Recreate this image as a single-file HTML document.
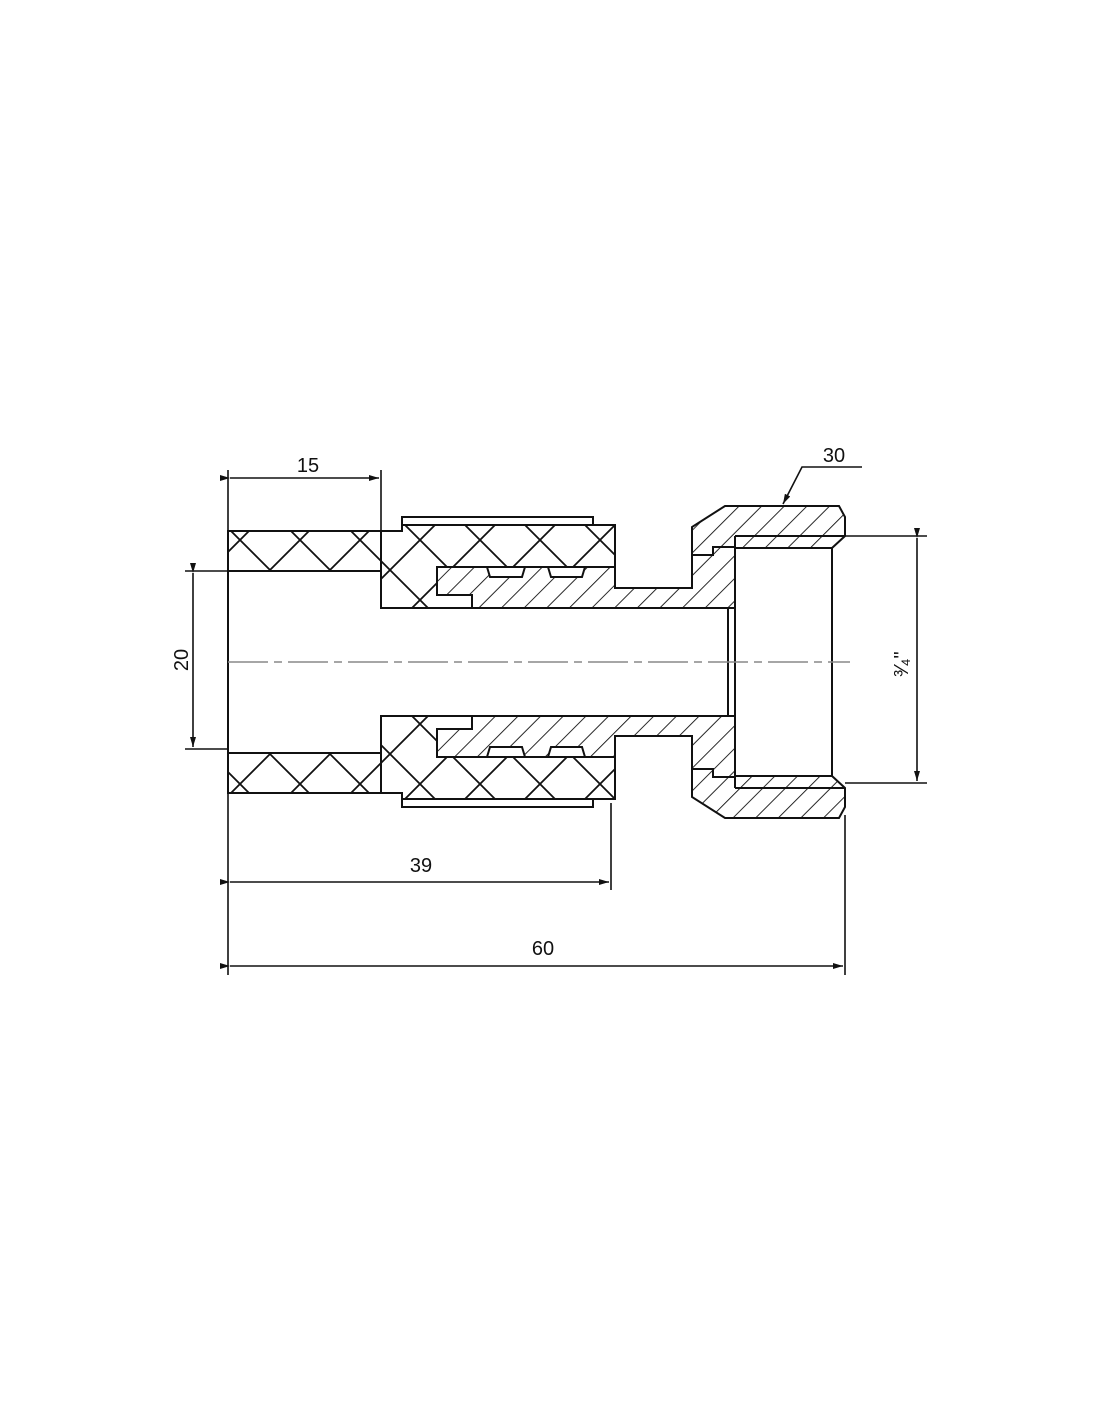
<!DOCTYPE html>
<html><head><meta charset="utf-8"><style>html,body{margin:0;padding:0;background:#fff}svg{display:block}</style></head><body>
<svg width="1100" height="1422" viewBox="0 0 1100 1422" xmlns="http://www.w3.org/2000/svg" font-family="Liberation Sans, sans-serif">
<defs>
<pattern id="x" width="60" height="60" patternUnits="userSpaceOnUse" x="0" y="0">
<path d="M0,0L60,60M60,0L0,60" stroke="#111" stroke-width="1.8"/>
</pattern>
<pattern id="h" width="16" height="16" patternUnits="userSpaceOnUse" patternTransform="rotate(-45)">
<path d="M0,0V16" stroke="#111" stroke-width="1.8"/>
</pattern>
<pattern id="h2" width="16" height="16" patternUnits="userSpaceOnUse" patternTransform="rotate(45)">
<path d="M0,0V16" stroke="#111" stroke-width="1.8"/>
</pattern>
<marker id="a" markerWidth="10" markerHeight="6" refX="10" refY="3" orient="auto" markerUnits="userSpaceOnUse"><path d="M0,0L10,3L0,6z" fill="#111"/></marker>
</defs>
<g stroke="#111" stroke-width="2" fill="none">
<rect x="402" y="517" width="191" height="8" fill="#fff"/>
<polygon fill="url(#x)" points="228,531 402,531 402,525 615,525 615,567 437,567 437,595 472,595 472,608 381,608 381,571 228,571"/>
<polygon fill="url(#h2)" points="437,567 487,567 490,577 522,577 525,567 548,567 551,577 582,577 585,567 615,567 615,588 692,588 692,527 725,506 839,506 845,517 845,536 832,548 735,548 735,608 472,608 472,595 437,595"/>
<path d="M381,531V608M728,608V662M735,536V662M735,536H845M832,548V662M692,555H713V547H735"/>
</g>
<g transform="matrix(1,0,0,-1,0,1324)" stroke="#111" stroke-width="2" fill="none">
<rect x="402" y="517" width="191" height="8" fill="#fff"/>
<polygon fill="url(#x)" points="228,531 402,531 402,525 615,525 615,567 437,567 437,595 472,595 472,608 381,608 381,571 228,571"/>
<polygon fill="url(#h)" points="437,567 487,567 490,577 522,577 525,567 548,567 551,577 582,577 585,567 615,567 615,588 692,588 692,527 725,506 839,506 845,517 845,536 832,548 735,548 735,608 472,608 472,595 437,595"/>
<path d="M381,531V608M728,608V662M735,536V662M735,536H845M832,548V662M692,555H713V547H735"/>
</g>
<path d="M228,531V790" stroke="#111" stroke-width="2"/>
<path d="M228,662H850" stroke="#888" stroke-width="1.5" stroke-dasharray="40,6,8,6"/>
<g stroke="#111" stroke-width="1.6" fill="none">
<path d="M228,470V531M381,470V531M228,790V975M611,803V890M845,815V975"/>
<path d="M230,478H379" marker-start="url(#a)" marker-end="url(#a)"/>
<path d="M185,571H228M185,749H228"/>
<path d="M193,573V747" marker-start="url(#a)" marker-end="url(#a)"/>
<path d="M230,882H609" marker-start="url(#a)" marker-end="url(#a)"/>
<path d="M230,966H843" marker-start="url(#a)" marker-end="url(#a)"/>
<path d="M845,536H927M845,783H927"/>
<path d="M917,538V781" marker-start="url(#a)" marker-end="url(#a)"/>
<path d="M862,467H802L783,504" marker-end="url(#a)"/>
</g>
<g font-size="20" fill="#111" text-anchor="middle">
<text x="308" y="472">15</text>
<text x="834" y="462">30</text>
<text x="421" y="872">39</text>
<text x="543" y="955">60</text>
<text transform="translate(188,660) rotate(-90)">20</text>
<text transform="translate(908,664) rotate(-90)" font-size="20">³⁄₄"</text>
</g>
</svg>
</body></html>
